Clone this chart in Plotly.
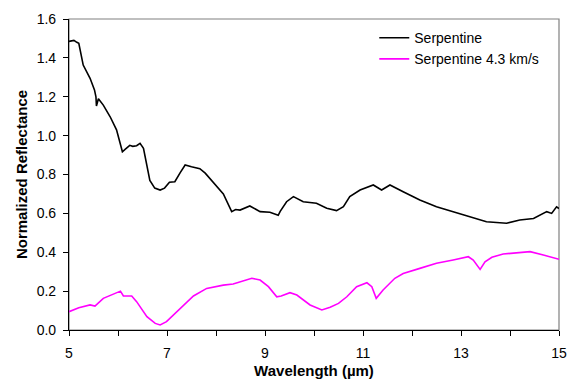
import plotly.graph_objects as go

serp_x = [5.0, 5.1, 5.16, 5.2, 5.29, 5.43, 5.52, 5.55, 5.56, 5.6, 5.7, 5.84, 5.97, 6.09, 6.15, 6.24, 6.3,
          6.38, 6.45, 6.52, 6.65, 6.75, 6.86, 6.95, 7.05, 7.16, 7.27, 7.37, 7.5, 7.67, 7.78, 7.94, 8.15,
          8.32, 8.4, 8.49, 8.69, 8.9, 9.1, 9.27, 9.31, 9.44, 9.58, 9.78, 10.05, 10.26, 10.46, 10.6, 10.73,
          10.94, 11.14, 11.21, 11.38, 11.55, 11.82, 12.16, 12.5, 12.84, 13.18, 13.52, 13.93, 14.2, 14.48,
          14.75, 14.85, 14.95, 15.0]
serp_y = [1.485, 1.49, 1.48, 1.475, 1.363, 1.295, 1.235, 1.2, 1.152, 1.19, 1.157, 1.097, 1.03, 0.917, 0.93,
          0.95, 0.945, 0.948, 0.96, 0.935, 0.77, 0.73, 0.72, 0.73, 0.76, 0.763, 0.81, 0.849, 0.84, 0.83,
          0.807, 0.76, 0.70, 0.609, 0.62, 0.617, 0.638, 0.609, 0.606, 0.59, 0.61, 0.66, 0.686, 0.66, 0.652,
          0.626, 0.614, 0.634, 0.686, 0.72, 0.737, 0.746, 0.72, 0.746, 0.711, 0.669, 0.634, 0.609, 0.583,
          0.557, 0.549, 0.566, 0.574, 0.609, 0.60, 0.634, 0.625]

shock_x = [5.0, 5.2, 5.43, 5.53, 5.7, 5.97, 6.05, 6.11, 6.28, 6.38, 6.59, 6.76, 6.86, 6.99, 7.13, 7.3, 7.54,
           7.81, 8.15, 8.35, 8.52, 8.73, 8.9, 9.07, 9.24, 9.33, 9.51, 9.65, 9.92, 10.16, 10.33, 10.5, 10.67,
           10.87, 11.08, 11.18, 11.27, 11.41, 11.65, 11.82, 12.16, 12.5, 12.84, 13.15, 13.25, 13.39, 13.49,
           13.63, 13.86, 14.14, 14.41, 14.68, 15.0]
shock_y = [0.094, 0.115, 0.129, 0.123, 0.163, 0.189, 0.2, 0.175, 0.175, 0.146, 0.069, 0.034, 0.026, 0.043,
           0.077, 0.12, 0.175, 0.214, 0.231, 0.237, 0.249, 0.266, 0.257, 0.223, 0.171, 0.175, 0.192, 0.18,
           0.129, 0.103, 0.117, 0.137, 0.171, 0.223, 0.243, 0.223, 0.163, 0.206, 0.266, 0.291, 0.317, 0.343,
           0.36, 0.377, 0.36, 0.312, 0.351, 0.374, 0.391, 0.398, 0.403, 0.386, 0.364]

names = ["Serpentine", "Serpentine 4.3 km/s"]
x_ticks = [5, 7, 9, 11, 13, 15]
y_ticks = [0.0, 0.2, 0.4, 0.6, 0.8, 1.0, 1.2, 1.4, 1.6]

font = "Liberation Sans, Arial, sans-serif"

fig = go.Figure()
fig.add_trace(go.Scatter(x=serp_x, y=serp_y, mode="lines", name=names[0],
                         line=dict(color="#000000", width=1.6)))
fig.add_trace(go.Scatter(x=shock_x, y=shock_y, mode="lines", name=names[1],
                         line=dict(color="#FF00FF", width=1.6)))

fig.add_shape(type="rect", xref="paper", yref="paper", x0=0, y0=0, x1=1, y1=1,
              line=dict(color="#808080", width=1.2), layer="below")

fig.update_layout(
    width=568, height=381,
    margin=dict(l=69, r=9, t=19, b=51, autoexpand=False),
    paper_bgcolor="white", plot_bgcolor="white",
    font=dict(family=font, size=14, color="#000000"),
    showlegend=True,
    legend=dict(x=0.623, y=0.99, xanchor="left", yanchor="top",
                bgcolor="rgba(0,0,0,0)", font=dict(size=14, family=font),
                itemwidth=30, tracegroupgap=0),
    xaxis=dict(range=[5, 15], tickvals=x_ticks, ticktext=[str(v) for v in x_ticks],
               showgrid=False, zeroline=False, showline=True, linecolor="#000000", linewidth=1.2,
               ticks="outside", ticklen=5, tickcolor="#000000", ticklabelstandoff=5,
               automargin=False,
               minor=dict(dtick=1, tick0=5, ticks="outside", ticklen=5, tickcolor="#000000", showgrid=False),
               title=dict(text="<b>Wavelength (µm)</b>", font=dict(size=15, family=font), standoff=5),
               tickfont=dict(size=14, family=font)),
    yaxis=dict(range=[0, 1.6], tickvals=y_ticks, tickformat=".1f",
               showgrid=False, zeroline=False, showline=True, linecolor="#000000", linewidth=1.2,
               ticks="outside", ticklen=5, tickcolor="#000000", ticklabelstandoff=4,
               automargin=False,
               title=dict(text="<b>Normalized Reflectance</b>", font=dict(size=15, family=font), standoff=5),
               tickfont=dict(size=14, family=font)),
)

fig.write_html(
    "out.html",
    config={"displayModeBar": False},
    post_script="document.body.style.margin='0';document.body.style.overflow='hidden';",
)
